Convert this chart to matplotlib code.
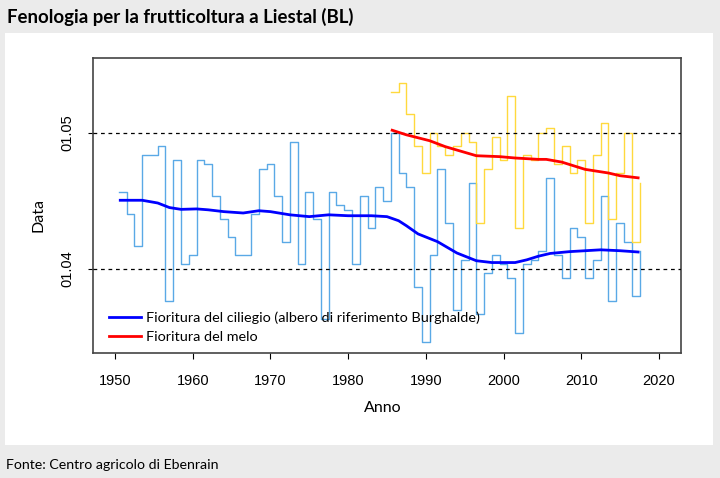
import matplotlib
matplotlib.use("Agg")
import matplotlib.pyplot as plt
from matplotlib.patches import Rectangle
from matplotlib.lines import Line2D

# ---- data (days after 1 April) ----
cherry_years = list(range(1951, 2018))
cherry_days = [17, 12, 5, 25, 25, 27, -7, 24, 1, 3, 24, 23, 16, 11, 7, 3, 3, 12, 22, 23,
               16, 6, 28, 1, 17, 11, -11, 17, 14, 13, 1, 16, 9, 18, 15, 30, 21, 18, -4, -16,
               3, 22, 10, -9, 2, 19, -10, -1, 3, 1, -2, -14, 1, 2, 4, 20, 3, -2, 9, 7,
               -2, 2, 16, -7, 10, 6, -6]
cherry_end = 4

apple_years = list(range(1986, 2018))
apple_days = [39, 41, 34, 27, 21, 30, 27, 25, 27, 30, 28, 10, 22, 29, 24, 38, 9, 25, 24, 30,
              31, 23, 27, 21, 24, 10, 25, 32, 11, 21, 30, 6]
apple_end = 19

cherry_smooth_x = [1950.5, 1953.5, 1955.5, 1957, 1958.5, 1960.5, 1962, 1964, 1966.5, 1968.5,
                   1970, 1972.5, 1975, 1977.5, 1980, 1983, 1985, 1986.5, 1987.5, 1989,
                   1991.5, 1994, 1996.5, 1998.5, 2001.5, 2003, 2004.5, 2006, 2008.5, 2012.5,
                   2015, 2017.5]
cherry_smooth_y = [15.1, 15.1, 14.5, 13.5, 13.1, 13.2, 13.0, 12.6, 12.3, 12.8,
                   12.6, 11.9, 11.5, 11.9, 11.7, 11.7, 11.5, 10.6, 9.5, 7.7,
                   6.0, 3.5, 1.8, 1.4, 1.4, 2.0, 2.8, 3.4, 3.8, 4.2,
                   4.0, 3.7]

apple_smooth_x = [1985.5, 1987.5, 1990.5, 1992.5, 1996.5, 1999.5, 2001.5, 2004.5, 2005.5,
                  2007.5, 2010.5, 2013.5, 2015, 2017.5]
apple_smooth_y = [30.6, 29.5, 28.2, 26.9, 24.9, 24.7, 24.4, 24.1, 24.1,
                  23.5, 21.9, 21.1, 20.5, 20.0]

x_ticks = [1950, 1960, 1970, 1980, 1990, 2000, 2010, 2020]
y_ticks = [0, 30]
y_tick_labels = ["01.04", "01.05"]

title = "Fenologia per la frutticoltura a Liestal (BL)"
source = "Fonte: Centro agricolo di Ebenrain"
legend_labels = ["Fioritura del ciliegio (albero di riferimento Burghalde)", "Fioritura del melo"]

NARROW = ["Lato", "DejaVu Sans"]
ARIAL = ["Liberation Sans", "DejaVu Sans"]

W, H = 720, 478
fig = plt.figure(figsize=(W / 100, H / 100), dpi=100, facecolor="#ebebeb")
fig.patches.append(Rectangle((5 / W, 1 - 445 / H), 708 / W, 412 / H, transform=fig.transFigure,
                             facecolor="white", edgecolor="none", zorder=-5))

ax = fig.add_axes([93 / W, 1 - 353 / H, 588 / W, 295 / H])
ax.set_zorder(2)
ax.set_facecolor("white")

# step series
c_edges = [y - 0.5 for y in cherry_years] + [cherry_years[-1] + 0.5]
a_edges = [y - 0.5 for y in apple_years] + [apple_years[-1] + 0.5]
ax.plot(c_edges, cherry_days + [cherry_end], drawstyle="steps-post", color="#5aa9e6", lw=1.0, zorder=2)
ax.plot(a_edges, apple_days + [apple_end], drawstyle="steps-post", color="#ffd93d", lw=1.0, zorder=2)

# smoothed
ax.plot(cherry_smooth_x, cherry_smooth_y, color="#0000ff", lw=2.0, zorder=4, solid_capstyle="butt")
ax.plot(apple_smooth_x, apple_smooth_y, color="#ff0000", lw=2.0, zorder=4, solid_capstyle="butt")

for yv in y_ticks:
    ax.axhline(yv, color="black", lw=0.9, ls=(0, (3, 3)), zorder=3)

ax.set_xlim(1947.17, 2022.84)
ax.set_ylim(-18.5, 46.4)
ax.set_xticks(x_ticks)
ax.set_xticklabels([str(x) for x in x_ticks], fontfamily=ARIAL, fontsize=10.5)
ax.set_yticks(y_ticks)
ax.set_yticklabels(y_tick_labels, fontfamily=ARIAL, fontsize=10.5, rotation=90, va="center")
ax.tick_params(axis="x", direction="out", length=4.3, width=0.8, pad=10.5)
ax.tick_params(axis="y", direction="out", length=3.6, width=0.8, pad=10)
for s in ax.spines.values():
    s.set_color("#444444")
    s.set_linewidth(1.2)

handles = [Line2D([], [], color="#0000ff", lw=2.0), Line2D([], [], color="#ff0000", lw=2.0)]
ax.legend(handles, legend_labels, loc="lower left", bbox_to_anchor=(0.012, 0.003), frameon=False,
          prop={"family": NARROW, "size": 10.4}, handlelength=2.2, handletextpad=0.35,
          labelspacing=0.5, borderaxespad=0.2)

fig.text(7 / W, 1 - 17 / H, title, fontfamily=NARROW, fontweight="bold", fontsize=13.4,
         va="center", ha="left")
fig.text(6 / W, 1 - 465 / H, source, fontfamily=NARROW, fontsize=10.2, va="center", ha="left")
fig.text(383 / W, 1 - 408 / H, "Anno", fontfamily=NARROW, fontsize=11.5, va="center", ha="center")
fig.text(38 / W, 1 - 215 / H, "Data", fontfamily=NARROW, fontsize=11.5, va="center", ha="center",
         rotation=90)

fig.savefig("out.png", dpi=100, facecolor=fig.get_facecolor())
